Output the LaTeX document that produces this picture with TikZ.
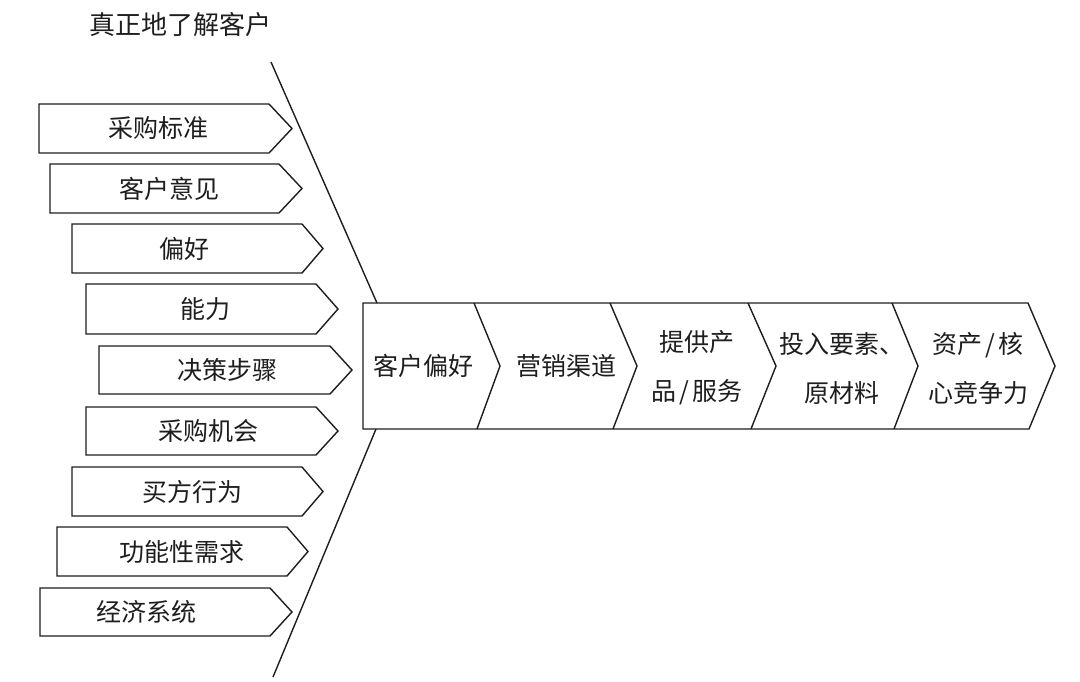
\documentclass[tikz,border=0pt]{standalone}
\usepackage{fontspec}
\setmainfont{Noto Sans CJK SC}
\definecolor{ink}{HTML}{1E1E1E}
\tikzset{
  outline/.style={draw=ink, line width=1.4pt, line join=miter},
  lbl/.style={text=ink, inner sep=0pt, font=\fontsize{25pt}{49pt}\selectfont, align=center},
}
\newcommand{\lbox}[8]{% name, left, top, bottom, corner, tip, textx, text
  \draw[outline] (#2,#3) -- (#5,#3) -- (#6,{(#3+#4)/2}) -- (#5,#4) -- (#2,#4) -- cycle;
  \node[lbl] (#1) at (#7,{(#3+#4)/2}) {#8};
}
\newcommand{\slsh}{\hspace{3pt}/\hspace{3pt}}
\begin{document}
\begin{tikzpicture}[x=1pt,y=-1pt]
\useasboundingbox (0,0) rectangle (1080,681);
\fill[white] (0,0) rectangle (1080,681);

\node[lbl, font=\fontsize{26pt}{30pt}\selectfont] (title) at (180,25) {真正地了解客户};

% funnel lines
\coordinate (ft1) at (271,62);
\coordinate (ft2) at (377,303);
\coordinate (fb1) at (376,429);
\coordinate (fb2) at (273,677);
\draw[outline] (ft1) -- (ft2);
\draw[outline] (fb1) -- (fb2);

% left arrows
\lbox{a1}{39}{104}{153}{269}{292}{158}{采购标准}
\lbox{a2}{50}{164}{213}{279}{302}{169}{客户意见}
\lbox{a3}{72}{224}{273}{302}{323}{184}{偏好}
\lbox{a4}{86}{284}{334}{316}{338}{205}{能力}
\lbox{a5}{99}{346}{394}{330}{352}{227}{决策步骤}
\lbox{a6}{86}{407}{455}{316}{338}{208}{采购机会}
\lbox{a7}{72}{467}{516}{302}{323}{192}{买方行为}
\lbox{a8}{57}{527}{576}{287}{308}{182}{功能性需求}
\lbox{a9}{40}{588}{636}{270}{292}{146}{经济系统}

% main chain
\draw[outline] (363,303) -- (1028,303) -- (1055,366) -- (1029,429) -- (363,429) -- cycle;
\draw[outline] (474,303) -- (500,366) -- (477,429);
\draw[outline] (610,303) -- (637,366) -- (613,429);
\draw[outline] (748,303) -- (776,366) -- (751,429);
\draw[outline] (892,303) -- (918,366) -- (894,429);

\node[lbl] (c1) at (423,366) {客户偏好};
\node[lbl] (c2) at (566,366) {营销渠道};
\node[lbl] (c3) at (697,368) {提供产\\品\slsh 服务};
\node[lbl] (c4) at (842,368) {投入要素、\\原材料};
\node[lbl] (c5) at (978,368) {资产\slsh 核\\心竞争力};
\end{tikzpicture}
\end{document}
